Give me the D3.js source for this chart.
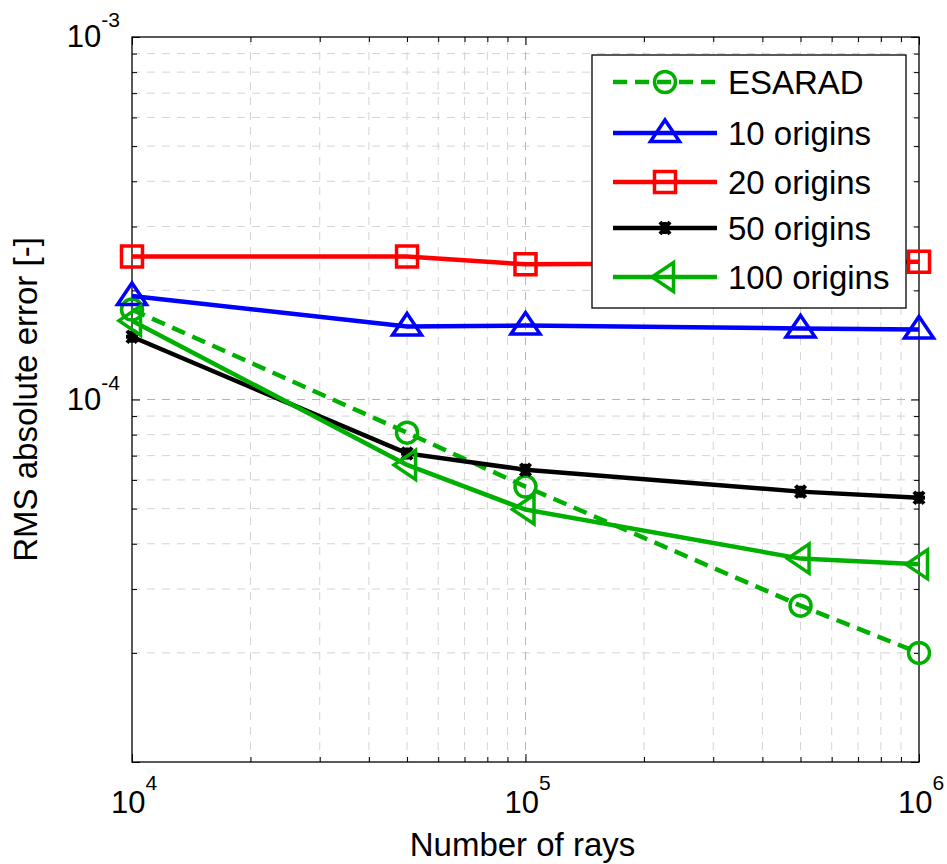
<!DOCTYPE html>
<html>
<head>
<meta charset="utf-8">
<script src="https://cdn.jsdelivr.net/npm/d3@7"></script>
<style>
  body { margin: 0; background: #fff; }
  svg { display: block; font-family: "Liberation Sans", Arial, sans-serif; }
</style>
</head>
<body>
<svg id="chart"></svg>
<script>
// Data
var rays = [1e4, 5e4, 1e5, 5e5, 1e6];
var esarad = [1.77e-4, 8.1e-5, 5.75e-5, 2.7e-5, 2.0e-5];
var origins10 = [1.93e-4, 1.59e-4, 1.60e-4, 1.57e-4, 1.56e-4];
var origins20 = [2.48e-4, 2.48e-4, 2.36e-4, 2.38e-4, 2.40e-4];
var origins50 = [1.49e-4, 7.1e-5, 6.4e-5, 5.57e-5, 5.36e-5];
var origins100 = [1.65e-4, 6.6e-5, 4.97e-5, 3.64e-5, 3.51e-5];

var seriesNames = ['ESARAD', '10 origins', '20 origins', '50 origins', '100 origins'];
var xTickExps = [4, 5, 6];
var yTickExps = [-3, -4];

var series = [
    {name: seriesNames[0], values: esarad, color: '#00b000', dash: '14,8', marker: 'circle'},
    {name: seriesNames[1], values: origins10, color: '#0000ff', dash: null, marker: 'triUp'},
    {name: seriesNames[2], values: origins20, color: '#ff0000', dash: null, marker: 'square'},
    {name: seriesNames[3], values: origins50, color: '#000000', dash: null, marker: 'star'},
    {name: seriesNames[4], values: origins100, color: '#00b000', dash: null, marker: 'triLeft'}
];

function drawChart() {
    var svgWidth = 947;
    var svgHeight = 864;
    var padding = {t: 37, r: 28, b: 102, l: 132};
    var chartWidth = svgWidth - padding.l - padding.r;
    var chartHeight = svgHeight - padding.t - padding.b;

    var svg = d3.select('#chart')
        .attr('width', svgWidth)
        .attr('height', svgHeight);

    var chartG = svg.append('g')
        .attr('transform', 'translate(' + [padding.l, padding.t] + ')');

    var xScale = d3.scaleLog().domain([1e4, 1e6]).range([0, chartWidth]);
    var yScale = d3.scaleLog().domain([1e-5, 1e-3]).range([chartHeight, 0]);

    // major and minor tick values
    var xMinor = [], yMinor = [];
    [1e4, 1e5].forEach(function(b) { for (var k = 2; k <= 9; k++) xMinor.push(k * b); });
    [1e-5, 1e-4].forEach(function(b) { for (var k = 2; k <= 9; k++) yMinor.push(k * b); });
    var xMajor = xTickExps.map(function(e) { return Math.pow(10, e); });
    var yMajor = [1e-5, 1e-4, 1e-3];

    // Grid
    var grid = chartG.append('g').attr('class', 'grid');
    grid.selectAll('.gx-minor').data(xMinor).enter().append('line')
        .attr('x1', d => xScale(d)).attr('x2', d => xScale(d))
        .attr('y1', 0).attr('y2', chartHeight)
        .attr('stroke', '#d4d4d4').attr('stroke-width', 1).attr('stroke-dasharray', '8,7');
    grid.selectAll('.gy-minor').data(yMinor).enter().append('line')
        .attr('y1', d => yScale(d)).attr('y2', d => yScale(d))
        .attr('x1', 0).attr('x2', chartWidth)
        .attr('stroke', '#d4d4d4').attr('stroke-width', 1).attr('stroke-dasharray', '8,7');
    grid.selectAll('.gx-major').data([1e5]).enter().append('line')
        .attr('x1', d => xScale(d)).attr('x2', d => xScale(d))
        .attr('y1', 0).attr('y2', chartHeight)
        .attr('stroke', '#b4b4b4').attr('stroke-width', 1).attr('stroke-dasharray', '8,7');
    grid.selectAll('.gy-major').data([1e-4]).enter().append('line')
        .attr('y1', d => yScale(d)).attr('y2', d => yScale(d))
        .attr('x1', 0).attr('x2', chartWidth)
        .attr('stroke', '#b4b4b4').attr('stroke-width', 1).attr('stroke-dasharray', '8,7');

    // Axes with inward ticks on all four sides
    var majorLen = 8, minorLen = 5;
    var axes = chartG.append('g').attr('class', 'axes');
    function tickGroup(axisFn, scale, vals, len, transform) {
        axes.append('g')
            .attr('transform', transform)
            .call(axisFn(scale).tickValues(vals).tickSize(-len).tickFormat(''))
            .call(g => g.select('.domain').remove())
            .call(g => g.selectAll('.tick line').attr('stroke', '#000').attr('stroke-width', 1));
    }
    tickGroup(d3.axisBottom, xScale, xMajor, majorLen, 'translate(0,' + chartHeight + ')');
    tickGroup(d3.axisBottom, xScale, xMinor, minorLen, 'translate(0,' + chartHeight + ')');
    tickGroup(d3.axisTop, xScale, xMajor, majorLen, 'translate(0,0)');
    tickGroup(d3.axisTop, xScale, xMinor, minorLen, 'translate(0,0)');
    tickGroup(d3.axisLeft, yScale, yMajor, majorLen, 'translate(0,0)');
    tickGroup(d3.axisLeft, yScale, yMinor, minorLen, 'translate(0,0)');
    tickGroup(d3.axisRight, yScale, yMajor, majorLen, 'translate(' + chartWidth + ',0)');
    tickGroup(d3.axisRight, yScale, yMinor, minorLen, 'translate(' + chartWidth + ',0)');

    chartG.append('rect')
        .attr('x', 0).attr('y', 0)
        .attr('width', chartWidth).attr('height', chartHeight)
        .attr('fill', 'none').attr('stroke', '#000').attr('stroke-width', 1.3);

    // Tick labels as 10^n
    var xLab = chartG.selectAll('.x-label').data(xTickExps).enter().append('text')
        .attr('class', 'x-label')
        .attr('x', d => xScale(Math.pow(10, d)) + 2)
        .attr('y', chartHeight + 51)
        .attr('text-anchor', 'middle')
        .attr('font-size', '31px')
        .attr('fill', '#000');
    xLab.append('tspan').text('10');
    xLab.append('tspan').attr('dy', -23).attr('font-size', '21px').text(d => d);

    var yLab = chartG.selectAll('.y-label').data(yTickExps).enter().append('text')
        .attr('class', 'y-label')
        .attr('x', -12)
        .attr('y', d => yScale(Math.pow(10, d)) + 10)
        .attr('text-anchor', 'end')
        .attr('font-size', '31px')
        .attr('fill', '#000');
    yLab.append('tspan').text('10');
    yLab.append('tspan').attr('dy', -20).attr('font-size', '21px').text(d => d);

    // Axis titles
    svg.append('text')
        .attr('x', padding.l + chartWidth / 2 - 3)
        .attr('y', 856)
        .attr('text-anchor', 'middle')
        .attr('font-size', '33px')
        .text('Number of rays');
    svg.append('text')
        .attr('transform', 'translate(' + [37, padding.t + chartHeight / 2] + ') rotate(-90)')
        .attr('text-anchor', 'middle')
        .attr('font-size', '33px')
        .text('RMS absolute error [-]');

    // Markers
    function markerPath(type) {
        switch (type) {
            case 'circle': return 'M10.5,0A10.5,10.5 0 1,1 -10.5,0A10.5,10.5 0 1,1 10.5,0Z';
            case 'triUp': return 'M0,-13L14.5,8.5L-14.5,8.5Z';
            case 'triLeft': return 'M-13,0L8.5,-14.5L8.5,14.5Z';
            case 'square': return 'M-10.5,-10.5H10.5V10.5H-10.5Z';
            case 'star': return 'M-5,-6L5,6M-5,6L5,-6M0,-6V6M-6,0H6';
        }
    }

    var line = d3.line()
        .x(d => xScale(d[0]))
        .y(d => yScale(d[1]));

    series.forEach(function(s) {
        var pts = rays.map((r, i) => [r, s.values[i]]);
        var g = chartG.append('g').attr('class', 'series');
        g.append('path')
            .datum(pts)
            .attr('d', line)
            .attr('fill', 'none')
            .attr('stroke', s.color)
            .attr('stroke-width', 4.5)
            .attr('stroke-dasharray', s.dash);
        g.selectAll('.mk').data(pts).enter().append('path')
            .attr('class', 'mk')
            .attr('transform', d => 'translate(' + [xScale(d[0]), yScale(d[1])] + ')')
            .attr('d', markerPath(s.marker))
            .attr('fill', 'none')
            .attr('stroke', s.color)
            .attr('stroke-width', s.marker === 'star' ? 4 : 3.5);
    });

    // Legend
    var legend = svg.append('g').attr('class', 'legend');
    legend.append('rect')
        .attr('x', 592).attr('y', 55)
        .attr('width', 314).attr('height', 253)
        .attr('fill', '#fff').attr('stroke', '#000').attr('stroke-width', 1.3);
    var legendY = [82, 133, 182, 228, 277];
    series.forEach(function(s, i) {
        var ly = legendY[i];
        legend.append('line')
            .attr('x1', 613).attr('x2', 717)
            .attr('y1', ly).attr('y2', ly)
            .attr('stroke', s.color).attr('stroke-width', 4.5)
            .attr('stroke-dasharray', s.dash);
        legend.append('path')
            .attr('transform', 'translate(' + [665, ly] + ')')
            .attr('d', markerPath(s.marker))
            .attr('fill', 'none')
            .attr('stroke', s.color).attr('stroke-width', s.marker === 'star' ? 4 : 3.5);
        legend.append('text')
            .attr('x', 728).attr('y', ly + 12)
            .attr('font-size', '33px')
            .text(s.name);
    });
}

drawChart();
</script>
</body>
</html>
